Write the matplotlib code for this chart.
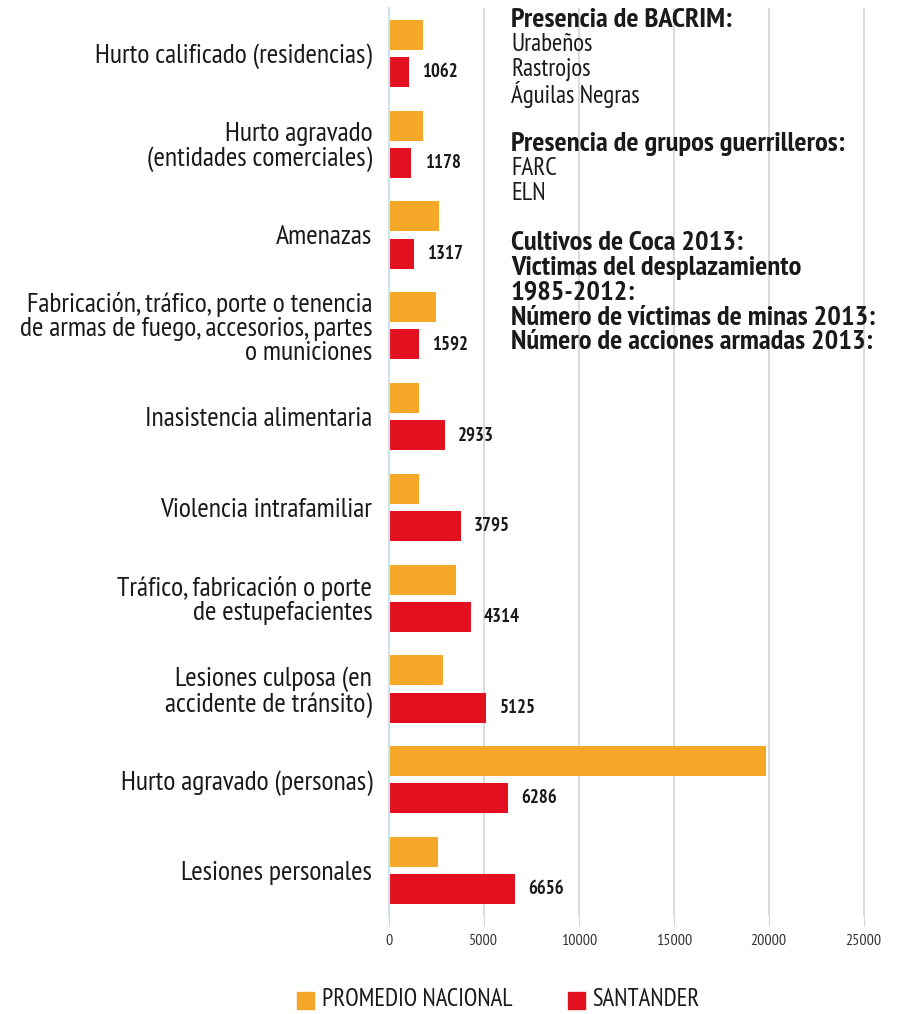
import matplotlib
matplotlib.use("Agg")
import matplotlib.pyplot as plt
from matplotlib.patches import Rectangle

# --- data -------------------------------------------------------------
categories = [
    "Hurto calificado (residencias)",
    "Hurto agravado\n(entidades comerciales)",
    "Amenazas",
    "Fabricación, tráfico, porte o tenencia\nde armas de fuego, accesorios, partes\no municiones",
    "Inasistencia alimentaria",
    "Violencia intrafamiliar",
    "Tráfico, fabricación o porte\nde estupefacientes",
    "Lesiones culposa (en\naccidente de tránsito)",
    "Hurto agravado (personas)",
    "Lesiones personales",
]
promedio_nacional = [1790, 1790, 2630, 2460, 1580, 1580, 3510, 2830, 19870, 2560]
santander = [1062, 1178, 1317, 1592, 2933, 3795, 4314, 5125, 6286, 6656]
x_ticks = [0, 5000, 10000, 15000, 20000, 25000]
series_names = ["PROMEDIO NACIONAL", "SANTANDER"]

info_lines = [
    ("Presencia de BACRIM:", True),
    ("Urabeños", False),
    ("Rastrojos", False),
    ("Águilas Negras", False),
    ("", False),
    ("Presencia de grupos guerrilleros:", True),
    ("FARC", False),
    ("ELN", False),
    ("", False),
    ("Cultivos de Coca 2013:", True),
    ("Victimas del desplazamiento", True),
    ("1985-2012:", True),
    ("Número de víctimas de minas 2013:", True),
    ("Número de acciones armadas 2013:", True),
]

# --- style ------------------------------------------------------------
plt.rcParams["font.family"] = ["PT Sans Narrow", "DejaVu Sans"]

YELLOW = "#F5A828"
RED = "#E3111F"
TEXT = "#1a1a1a"
GRID = "#d4d4d4"

W, H = 910, 1014
fig = plt.figure(figsize=(W / 100, H / 100), dpi=100)
ax = fig.add_axes([389 / W, 1 - 916 / H, (892 - 389) / W, (916 - 8) / H])

n = len(categories)
ypos = list(range(n))
off = 0.205
bh = 0.33
ax.barh([y - off for y in ypos], promedio_nacional, height=bh, color=YELLOW, zorder=3)
ax.barh([y + off for y in ypos], santander, height=bh, color=RED, zorder=3)

for y, v in zip(ypos, santander):
    ax.annotate(f"{v}", xy=(v, y + off), xytext=(9.5, 0), textcoords="offset points",
                ha="left", va="center", fontsize=13.5, fontweight="bold", color=TEXT)

ax.set_ylim(n - 0.5, -0.5)
ax.set_xlim(0, 26500)
ax.set_xticks(x_ticks)
ax.set_xticklabels([str(t) for t in x_ticks], fontsize=11.5, color="#333333")
ax.tick_params(axis="x", length=7, color=GRID, pad=6)
ax.set_yticks(ypos)
ax.set_yticklabels(categories, fontsize=20, color=TEXT, linespacing=1.0)
ax.tick_params(axis="y", length=0, pad=12)

for t in x_ticks[1:]:
    ax.axvline(t, color=GRID, lw=1.2, zorder=1)
for s in ["top", "right", "bottom"]:
    ax.spines[s].set_visible(False)
ax.spines["left"].set_color("#cfe0e6")
ax.spines["left"].set_linewidth(1.5)
ax.spines["left"].set_zorder(4)

# information block
y0 = 1 - 20 / H
step = 24.8 / H
for i, (txt, bold) in enumerate(info_lines):
    if txt:
        fig.text(511 / W, y0 - i * step, txt, fontsize=20.5 if bold else 18,
                 fontweight="bold" if bold else "normal",
                 color=TEXT, ha="left", va="center", zorder=5)

# legend
ly = 1 - 1000 / H
sq = 17
fig.patches.append(Rectangle((297 / W, ly - sq / 2 / H), sq / W, sq / H,
                             transform=fig.transFigure, color=YELLOW))
fig.text(322 / W, ly, series_names[0], fontsize=17.7, color=TEXT, ha="left", va="center")
fig.patches.append(Rectangle((568 / W, ly - sq / 2 / H), sq / W, sq / H,
                             transform=fig.transFigure, color=RED))
fig.text(592 / W, ly, series_names[1], fontsize=17.7, color=TEXT, ha="left", va="center")

fig.savefig("out.png", dpi=100, facecolor="white")
